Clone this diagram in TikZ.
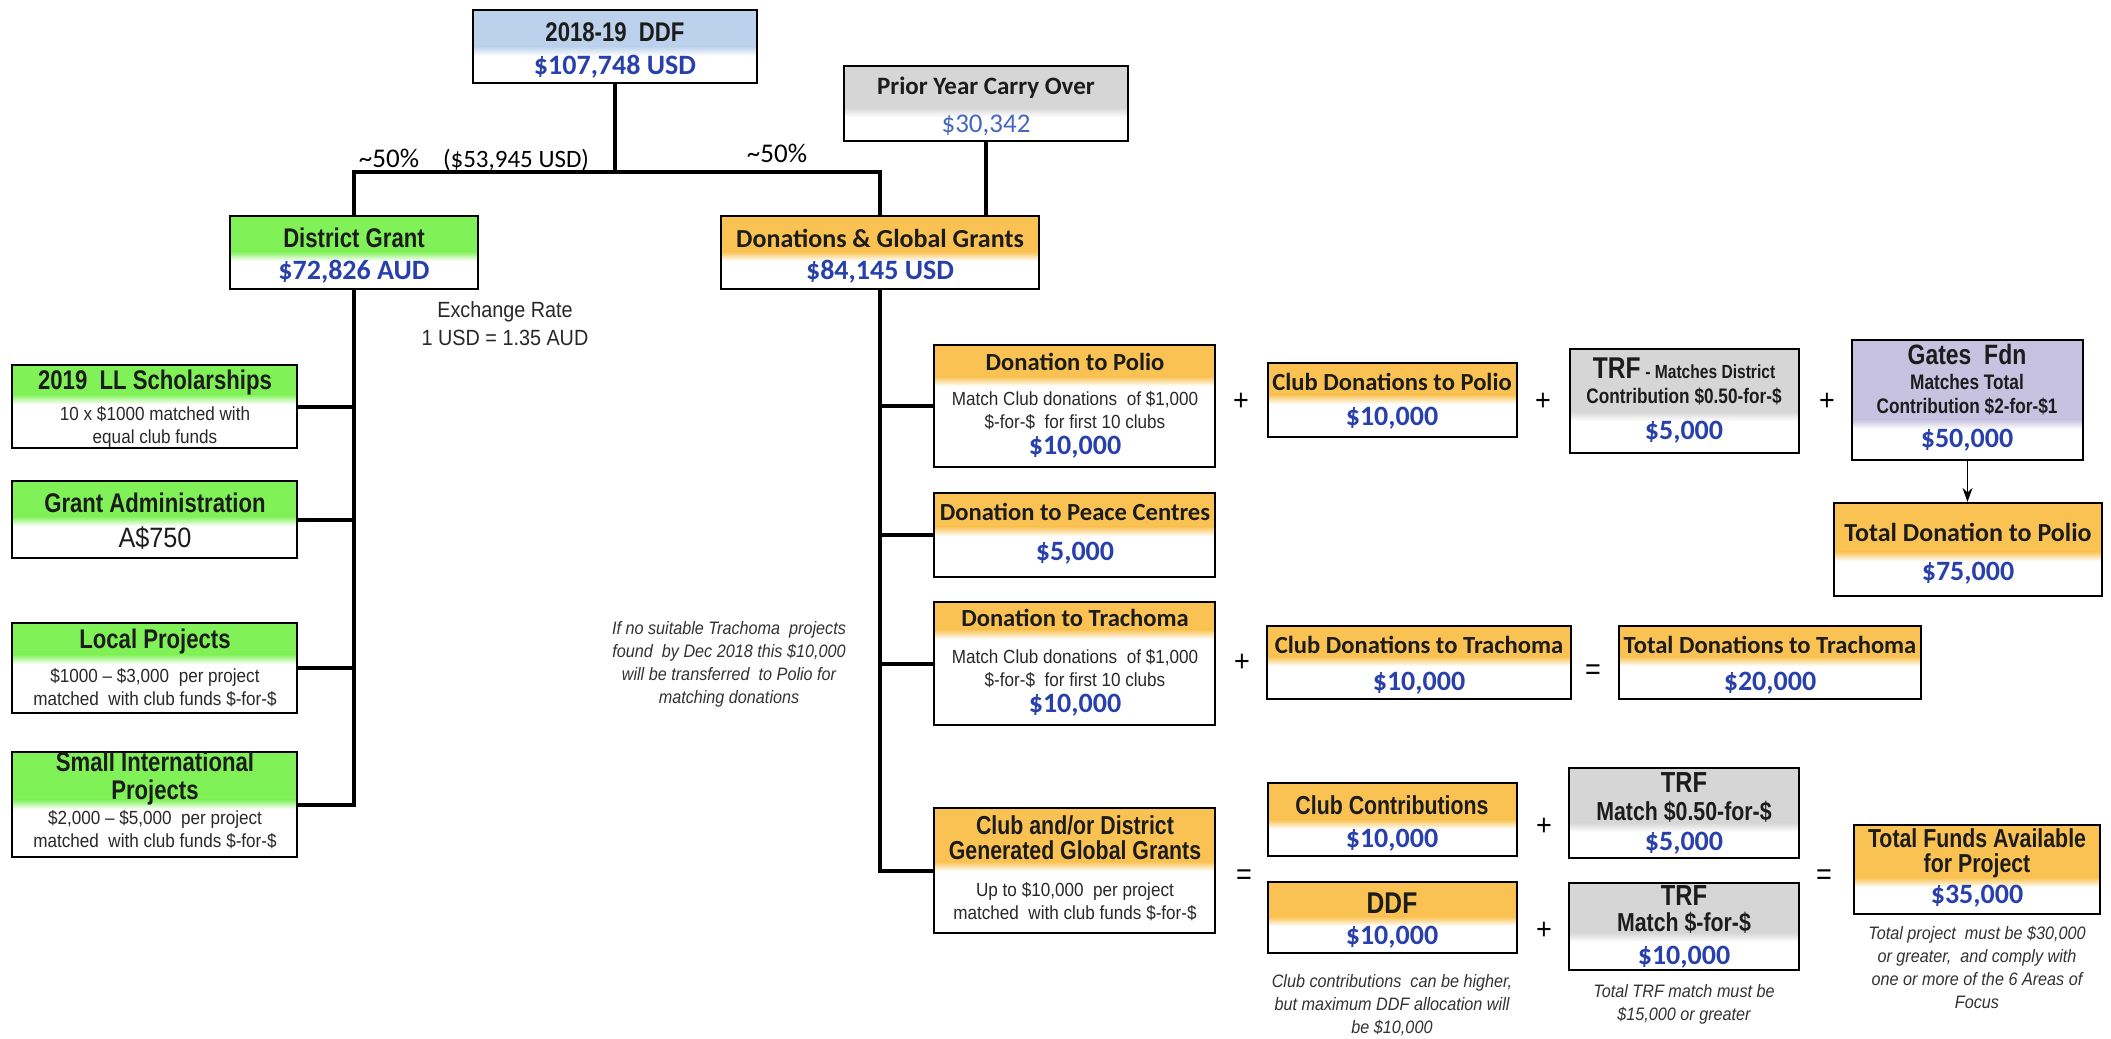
\documentclass[tikz,border=0pt]{standalone}
\usepackage{fontspec}
\setmainfont{Liberation Sans}
\newfontfamily\fnar[FakeStretch=0.82]{Liberation Sans}
\newfontfamily\fbody[FakeStretch=0.9]{Liberation Sans}
\newfontfamily\fcal{Carlito}
\usetikzlibrary{fit,arrows.meta}
\definecolor{ddfblue}{RGB}{188,210,236}
\definecolor{greenh}{RGB}{128,242,88}
\definecolor{orangeh}{RGB}{250,194,82}
\definecolor{grayh}{RGB}{214,214,214}
\definecolor{lavh}{RGB}{198,194,224}
\definecolor{valblue}{RGB}{40,64,172}
\definecolor{lightblue}{RGB}{70,104,190}
\definecolor{hdtext}{RGB}{28,28,28}
\definecolor{bodytext}{RGB}{40,40,40}
\definecolor{notetext}{RGB}{50,50,50}

\newcommand\bx[7]{%
  \fill[#7] (#2,#3) rectangle (#4,#6-5);
  \shade[top color=#7, bottom color=white] (#2,#6-5.5) rectangle (#4,#6+4);
  \node[boxnode, fit={(#2,#3) (#4,#5)}] (#1) {};
}

\begin{document}
\begin{tikzpicture}[x=0.5pt,y=-0.5pt,
  conn/.style={line width=2pt},
  boxnode/.style={draw=black, line width=1.1pt, inner sep=0pt, rectangle},
  hn/.style={inner sep=0pt, text=hdtext, align=center, font=\fnar\bfseries\fontsize{13.5}{14}\selectfont},
  hc/.style={inner sep=0pt, text=hdtext, align=center, font=\fcal\bfseries\fontsize{12.3}{14}\selectfont},
  sub/.style={inner sep=0pt, text=hdtext, align=center, font=\fnar\bfseries\fontsize{10.5}{12}\selectfont},
  val/.style={inner sep=0pt, text=valblue, font=\fcal\bfseries\fontsize{14}{16}\selectfont},
  valr/.style={inner sep=0pt, text=lightblue, font=\fcal\fontsize{13.5}{16}\selectfont},
  body/.style={inner sep=0pt, text=bodytext, align=center, font=\fbody\fontsize{9.5}{11.5}\selectfont},
  note/.style={inner sep=0pt, text=notetext, align=center, font=\fbody\itshape\fontsize{9}{11.5}\selectfont},
  exch/.style={inner sep=0pt, text=bodytext, align=center, font=\fbody\fontsize{11}{14}\selectfont},
  op/.style={inner sep=0pt, text=black, font=\fbody\fontsize{15}{15}\selectfont},
  pct/.style={inner sep=0pt, text=black, font=\fcal\fontsize{13.5}{15}\selectfont},
  arr/.style={line width=0.9pt, -{Stealth[length=7pt,width=5pt]}}
]
\fill[white] (0,0) rectangle (2111,1039);
\path[use as bounding box] (0,0) rectangle (2111,1039);

% ---------- top ----------
\bx{ddf}{473}{10}{757}{83}{52}{ddfblue}
\node[hn] (ddfh) at (615,32) {2018-19\ \ DDF};
\node[val] (ddfv) at (615,67) {\$107,748 USD};

\bx{prior}{844}{66}{1128}{141}{113}{grayh}
\node[hc, font=\fcal\bfseries\fontsize{12.5}{15}\selectfont] (priorh) at (986,88) {Prior Year Carry Over};
\node[valr] (priorv) at (986,125) {\$30,342};

\node[pct] (pL) at (389,158) {\textasciitilde50\%};
\node[pct, font=\fcal\fontsize{12.5}{15}\selectfont] (amtL) at (516,160) {(\$53,945 USD)};
\node[pct] (pR) at (777,153) {\textasciitilde50\%};

\bx{dg}{230}{216}{478}{289}{257}{greenh}
\node[hn] (dgh) at (354,238) {District Grant};
\node[val] (dgv) at (354,272) {\$72,826 AUD};

\bx{dgg}{721}{216}{1039}{289}{257}{orangeh}
\node[hc, font=\fcal\bfseries\fontsize{13}{15}\selectfont] (dggh) at (880,238) {Donations \& Global Grants};
\node[val] (dggv) at (880,272) {\$84,145 USD};

\node[exch] (exch) at (505,324) {Exchange Rate\\1 USD = 1.35 AUD};

\coordinate (hub) at (ddf.south |- 0,172);
\draw[conn] (ddf.south) -- (hub);
\draw[conn] (dg.north) |- (hub) -| (dgg.north);
\draw[conn] (prior.south) -- (prior.south |- dgg.north);

% ---------- left column ----------
\bx{ll}{12}{365}{297}{448}{400}{greenh}
\node[hn] (llh) at (155,383) {2019\ \ LL Scholarships};
\node[body] (llb) at (155,427) {10 x \$1000 matched with\\equal club funds};

\bx{ga}{12}{481}{297}{558}{522}{greenh}
\node[hn] (gah) at (155,503) {Grant Administration};
\node[inner sep=0pt, text=hdtext, font=\fbody\fontsize{14}{16}\selectfont] (gav) at (155,538) {A\$750};

\bx{lp}{12}{623}{297}{713}{660}{greenh}
\node[hn] (lph) at (155,642) {Local Projects};
\node[body] (lpb) at (155,688) {\$1000 – \$3,000\ \ per project\\matched\ \ with club funds \$-for-\$};

\bx{sip}{12}{752}{297}{857}{805}{greenh}
\node[hn] (siph) at (155,779) {Small International\\Projects};
\node[body] (sipb) at (155,830) {\$2,000 – \$5,000\ \ per project\\matched\ \ with club funds \$-for-\$};

\draw[conn] (dg.south) |- (sip.east);
\draw[conn] (ll.east) -- (ll.east -| dg.south);
\draw[conn] (ga.east) -- (ga.east -| dg.south);
\draw[conn] (lp.east) -- (lp.east -| dg.south);

% ---------- middle column ----------
\bx{polio}{934}{345}{1215}{467}{382}{orangeh}
\node[hc] (polioh) at (1075,362) {Donation to Polio};
\node[body] (poliob) at (1075,411) {Match Club donations\ \ of \$1,000\\\$-for-\$\ \ for first 10 clubs};
\node[val] (poliov) at (1075,447) {\$10,000};

\bx{peace}{934}{493}{1215}{577}{532}{orangeh}
\node[hc] (peaceh) at (1075,512) {Donation to Peace Centres};
\node[val] (peacev) at (1075,553) {\$5,000};

\bx{trach}{934}{602}{1215}{725}{635}{orangeh}
\node[hc] (trachh) at (1075,618) {Donation to Trachoma};
\node[body] (trachb) at (1075,669) {Match Club donations\ \ of \$1,000\\\$-for-\$\ \ for first 10 clubs};
\node[val] (trachv) at (1075,705) {\$10,000};

\bx{cdg}{934}{808}{1215}{933}{867}{orangeh}
\node[hn, font=\fnar\bfseries\fontsize{13}{12.5}\selectfont] (cdgh) at (1075,838) {Club and/or District\\Generated Global Grants};
\node[body] (cdgb) at (1075,902) {Up to \$10,000\ \ per project\\matched\ \ with club funds \$-for-\$};

\draw[conn] (dgg.south) |- (cdg.west);
\draw[conn] (polio.west) -- (polio.west -| dgg.south);
\draw[conn] (peace.west) -- (peace.west -| dgg.south);
\draw[conn] (trach.west) -- (trach.west -| dgg.south);

\node[note] (tnote) at (729,664) {If no suitable Trachoma\ \ projects\\found\ \ by Dec 2018 this \$10,000\\will be transferred\ \ to Polio for\\matching donations};

% ---------- polio row ----------
\node[op] (op1) at (1241,402) {+};
\bx{cdp}{1268}{363}{1517}{437}{400}{orangeh}
\node[hc] (cdph) at (1392,382) {Club Donations to Polio};
\node[val] (cdpv) at (1392,418) {\$10,000};

\node[op] (op2) at (1543,402) {+};
\bx{trfa}{1570}{349}{1799}{453}{417}{grayh}
\node[sub] (trfah) at (1684,368) {{\fontsize{15}{15}\selectfont TRF} {\fontsize{9.5}{11}\selectfont - Matches District}};
\node[sub] (trfas) at (1684,396) {Contribution \$0.50-for-\$};
\node[val] (trfav) at (1684,432) {\$5,000};

\node[op] (op3) at (1827,402) {+};
\bx{gates}{1852}{340}{2083}{460}{425}{lavh}
\node[hn, font=\fnar\bfseries\fontsize{14}{15}\selectfont] (gatesh) at (1967,354) {Gates\ \ Fdn};
\node[sub] (gatess) at (1967,395) {Matches Total\\Contribution \$2-for-\$1};
\node[val] (gatesv) at (1967,440) {\$50,000};

\bx{tpol}{1834}{503}{2102}{596}{557}{orangeh}
\node[hc, font=\fcal\bfseries\fontsize{13}{15}\selectfont] (tpolh) at (1968,532) {Total Donation to Polio};
\node[val] (tpolv) at (1968,573) {\$75,000};
\draw[arr] (gates.south) -- (gates.south |- tpol.north);

% ---------- trachoma row ----------
\node[op] (op4) at (1242,663) {+};
\bx{cdt}{1267}{626}{1571}{699}{662}{orangeh}
\node[hc] (cdth) at (1419,645) {Club Donations to Trachoma};
\node[val] (cdtv) at (1419,683) {\$10,000};

\node[op] (eq1) at (1593,672) {=};
\bx{tdt}{1619}{626}{1921}{699}{662}{orangeh}
\node[hc] (tdth) at (1770,645) {Total Donations to Trachoma};
\node[val] (tdtv) at (1770,683) {\$20,000};

% ---------- global grants ----------
\node[op] (eq2) at (1244,877) {=};
\bx{cc}{1268}{783}{1517}{856}{825}{orangeh}
\node[hn, font=\fnar\bfseries\fontsize{13}{15}\selectfont] (cch) at (1392,805) {Club Contributions};
\node[val] (ccv) at (1392,840) {\$10,000};

\node[op] (op5) at (1544,827) {+};
\bx{trfb}{1569}{768}{1799}{858}{828}{grayh}
\node[hn, font=\fnar\bfseries\fontsize{14.5}{15}\selectfont] (trfbh) at (1684,783) {TRF};
\node[hn, font=\fnar\bfseries\fontsize{13}{15}\selectfont] (trfbs) at (1684,812) {Match \$0.50-for-\$};
\node[val] (trfbv) at (1684,843) {\$5,000};

\bx{ddfb}{1268}{882}{1517}{953}{922}{orangeh}
\node[hn, font=\fnar\bfseries\fontsize{15}{15}\selectfont] (ddfbh) at (1392,903) {DDF};
\node[val] (ddfbv) at (1392,937) {\$10,000};

\node[op] (op6) at (1544,931) {+};
\bx{trfc}{1569}{883}{1799}{970}{938}{grayh}
\node[hn, font=\fnar\bfseries\fontsize{14.5}{15}\selectfont] (trfch) at (1684,896) {TRF};
\node[hn, font=\fnar\bfseries\fontsize{13}{15}\selectfont] (trfcs) at (1684,923) {Match \$-for-\$};
\node[val] (trfcv) at (1684,957) {\$10,000};

\node[op] (eq3) at (1824,877) {=};
\bx{tf}{1854}{825}{2100}{914}{883}{orangeh}
\node[hn, font=\fnar\bfseries\fontsize{13}{12.5}\selectfont] (tfh) at (1977,853) {Total Funds Available\\for Project};
\node[val] (tfv) at (1977,896) {\$35,000};

\node[note] (n1) at (1392,1005) {Club contributions\ \ can be higher,\\but maximum DDF allocation will\\be \$10,000};
\node[note] (n2) at (1684,1004) {Total TRF match must be\\\$15,000 or greater};
\node[note] (n3) at (1977,967) {Total project\ \ must be \$30,000\\or greater,\ \ and comply with\\one or more of the 6 Areas of\\Focus};
\end{tikzpicture}
\end{document}
